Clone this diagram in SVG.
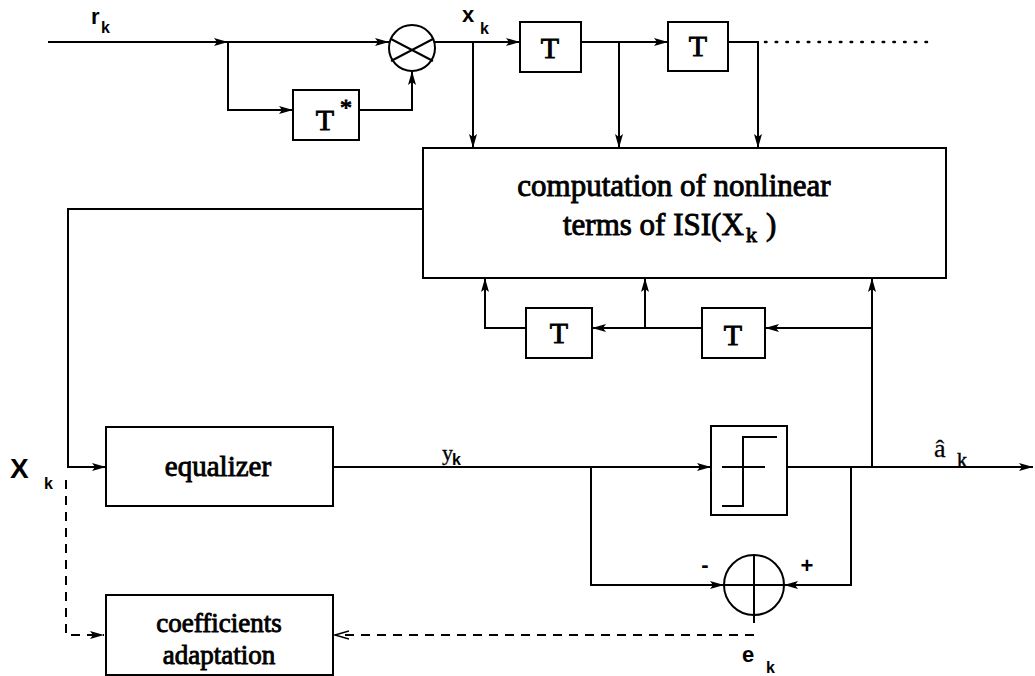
<svg xmlns="http://www.w3.org/2000/svg" width="1035" height="676" viewBox="0 0 1035 676">
<defs>
<marker id="ah" markerUnits="userSpaceOnUse" markerWidth="15" markerHeight="10" refX="14" refY="5" orient="auto">
<path d="M0,1 L14,5 L0,9 L3,5 z" fill="#000"/>
</marker>
<marker id="oh" markerUnits="userSpaceOnUse" markerWidth="15" markerHeight="10" refX="14" refY="5" orient="auto">
<path d="M0,1 L14,5 L0,9" fill="none" stroke="#000" stroke-width="1.5"/>
</marker>
</defs>
<style>
.box{fill:#fff;stroke:#000;stroke-width:2}
.ln{fill:none;stroke:#000;stroke-width:2}
.ar{fill:none;stroke:#000;stroke-width:2;marker-end:url(#ah)}
.da{fill:none;stroke:#000;stroke-width:2;stroke-dasharray:9,7}
.dot{fill:none;stroke:#000;stroke-width:2.5;stroke-dasharray:1.5,9.2;stroke-linecap:round}
.st{font-family:"Liberation Serif","Times New Roman",serif;font-size:29px;fill:#000;stroke:#000;stroke-width:0.9}
.tt{font-family:"Liberation Serif","Times New Roman",serif;font-size:30px;fill:#000;stroke:#000;stroke-width:0.9}
.lb{font-family:"Liberation Sans",Arial,sans-serif;font-weight:bold;font-size:22px;fill:#000}
.sb{font-family:"Liberation Sans",Arial,sans-serif;font-weight:bold;font-size:16px;fill:#000}
</style>
<rect width="1035" height="676" fill="#fff"/>

<g id="connectors">
<path class="ar" d="M48,42 H228"/>
<path class="ar" d="M228,42 H389"/>
<path class="ar" d="M228,42 V110 H293"/>
<path class="ar" d="M359,110 H412 V71"/>
<path class="ar" d="M434,42 H520"/>
<path class="ar" d="M473,42 V148"/>
<path class="ar" d="M581,42 H668"/>
<path class="ar" d="M619,42 V148"/>
<path class="ar" d="M728,42 H758 V148"/>
<path class="dot" d="M765,42 H935"/>
<path class="ar" d="M423,209 H68 V467 H106"/>
<path class="ar" d="M333,467 H711"/>
<path class="ar" d="M591,467 V585 H724"/>
<path class="ar" d="M787,467 H1033"/>
<path class="ar" d="M851,467 V585 H784"/>
<path class="ar" d="M872,467 V278"/>
<path class="ar" d="M872,328 H765"/>
<path class="ar" d="M702,328 H592"/>
<path class="ar" d="M645,328 V278"/>
<path class="ar" d="M526,328 H485 V278"/>
<path class="da" d="M66,480 V635 H104" marker-end="url(#ah)"/>
<path class="da" d="M754,635 H335" marker-end="url(#oh)"/>
</g>

<g id="label-rk"><text class="lb" x="91" y="24">r</text><text class="sb" x="101" y="33">k</text></g>
<g id="label-xk"><text class="lb" x="462" y="22">x</text><text class="sb" x="480" y="34">k</text></g>

<g id="multiplier">
<circle cx="412" cy="48" r="23" class="box"/>
<path class="ln" d="M391,39 Q412,50 433,61 M391,61 Q412,50 433,39"/>
</g>

<g id="delay-star">
<rect class="box" x="293" y="90" width="66" height="50"/>
<text class="tt" x="325" y="130" text-anchor="middle">T</text>
<text class="tt" x="340" y="115" style="font-size:24px">*</text>
</g>

<g id="delay1"><rect class="box" x="520" y="22" width="61" height="50"/><text class="tt" x="550" y="58" text-anchor="middle">T</text></g>
<g id="delay2"><rect class="box" x="668" y="22" width="60" height="49"/><text class="tt" x="698" y="56" text-anchor="middle">T</text></g>

<g id="nonlinear">
<rect class="box" x="423" y="148" width="523" height="130"/>
<text class="st" x="674" y="196" text-anchor="middle" style="font-size:31px">computation of nonlinear</text>
<text class="st" x="563" y="235" style="font-size:31px">terms of ISI(X</text>
<text class="st" x="746" y="242" style="font-size:22px">k</text>
<text class="st" x="766" y="235" style="font-size:31px">)</text>
</g>

<g id="delay3"><rect class="box" x="526" y="308" width="66" height="50"/><text class="tt" x="559" y="343" text-anchor="middle">T</text></g>
<g id="delay4"><rect class="box" x="702" y="308" width="63" height="50"/><text class="tt" x="733" y="345" text-anchor="middle">T</text></g>

<g id="equalizer">
<rect class="box" x="106" y="427" width="227" height="79"/>
<text class="st" x="218" y="476" text-anchor="middle">equalizer</text>
</g>

<g id="coeff">
<rect class="box" x="106" y="595" width="227" height="80"/>
<text class="st" x="219" y="632" text-anchor="middle" style="font-size:27px">coefficients</text>
<text class="st" x="219" y="664" text-anchor="middle" style="font-size:27px">adaptation</text>
</g>

<g id="decision">
<rect class="box" x="711" y="426" width="76" height="89"/>
<path class="ln" d="M722,467 H765 M722,506 H743 V437 H777"/>
</g>

<g id="summer">
<circle cx="754" cy="585" r="30" class="box"/>
<path class="ln" d="M754,555 V623 M724,585 H784"/>
<text class="lb" x="705" y="572" text-anchor="middle">-</text>
<text class="lb" x="807" y="573" text-anchor="middle">+</text>
</g>

<g id="label-Xk"><text class="lb" x="10" y="478" style="font-size:28px">X</text><text class="sb" x="44" y="489">k</text></g>
<g id="label-yk"><text class="st" x="442" y="460" style="font-size:22px;stroke-width:0.3">y</text><text class="sb" x="452" y="465">k</text></g>
<g id="label-ak"><text class="st" x="934" y="457" style="font-size:26px;stroke-width:0.3">â</text><text class="st" x="957" y="467" style="font-size:20px;stroke-width:0.5">k</text></g>
<g id="label-ek"><text class="lb" x="742" y="662">e</text><text class="sb" x="766" y="673">k</text></g>
</svg>
